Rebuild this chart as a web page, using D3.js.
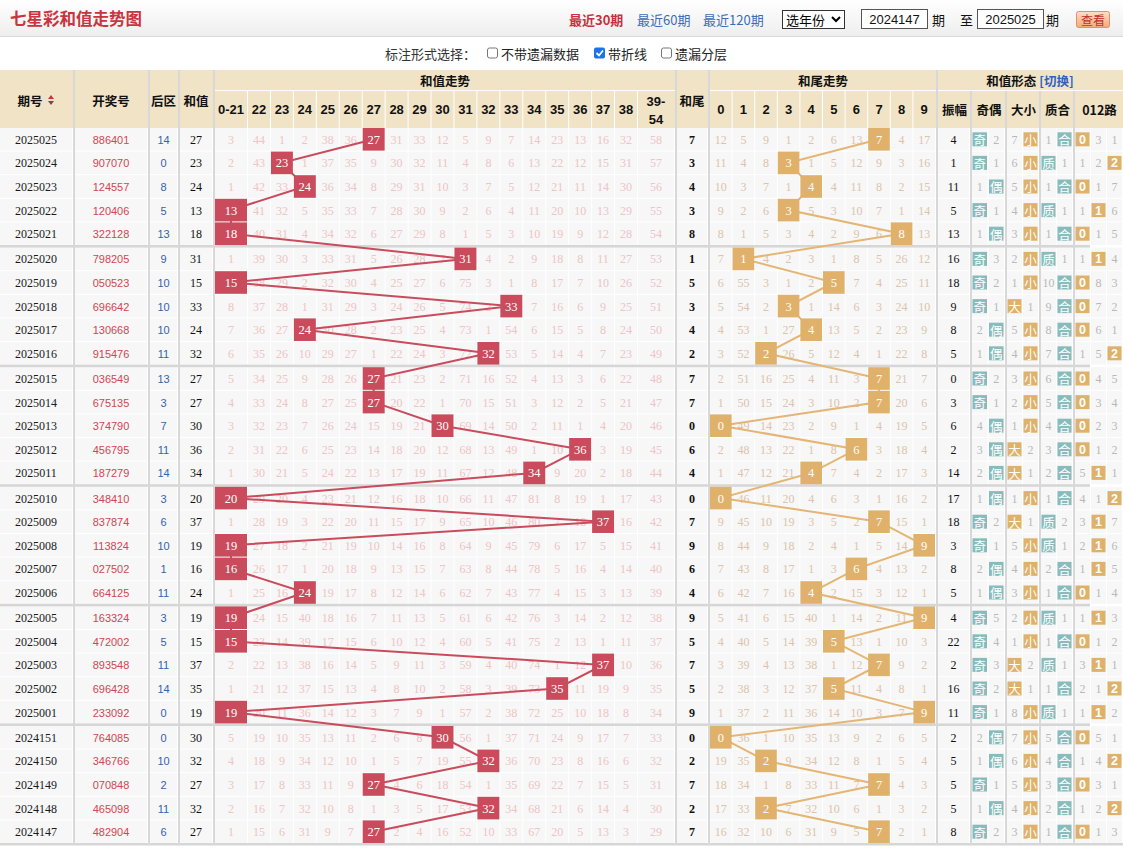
<!DOCTYPE html>
<html lang="zh">
<head>
<meta charset="utf-8">
<title>七星彩和值走势图</title>
<script src="https://cdnjs.cloudflare.com/ajax/libs/d3/7.8.5/d3.min.js"></script>
<style>
  body { margin: 0; background: #fff; overflow: hidden; }
</style>
</head>
<body>
<script>
// ---- data, newest draw first ----
var issues = ["2025025","2025024","2025023","2025022","2025021","2025020","2025019","2025018","2025017","2025016",
              "2025015","2025014","2025013","2025012","2025011","2025010","2025009","2025008","2025007","2025006",
              "2025005","2025004","2025003","2025002","2025001","2024151","2024150","2024149","2024148","2024147"];
var draws = ["886401","907070","124557","120406","322128","798205","050523","696642","130668","915476",
             "036549","675135","374790","456795","187279","348410","837874","113824","027502","664125",
             "163324","472002","893548","696428","233092","764085","346766","070848","465098","482904"];
var backs = [14,0,8,5,13,9,10,10,10,11,13,3,7,11,14,3,6,10,1,11,3,5,11,14,0,0,10,2,11,6];
var sums  = [27,23,24,13,18,31,15,33,24,32,27,27,30,36,34,20,37,19,16,24,19,15,37,35,19,30,32,27,32,27];
var tails = [7,3,4,3,8,1,5,3,4,2,7,7,0,6,4,0,7,9,6,4,9,5,7,5,9,0,2,7,2,7];
var amps  = [4,1,11,5,13,16,18,9,8,5,0,3,6,2,14,17,18,3,8,5,4,22,2,16,11,2,5,5,5,8];

var sumCols  = ["0-21","22","23","24","25","26","27","28","29","30","31","32","33","34","35","36","37","38","39-54"];
var tailCols = ["0","1","2","3","4","5","6","7","8","9"];

// omission counts, 0 marks the hit cell
var sumMiss = [
  [3,44,1,2,38,36,0,31,33,12,5,9,7,14,23,13,16,32,58],
  [2,43,0,1,37,35,9,30,32,11,4,8,6,13,22,12,15,31,57],
  [1,42,33,0,36,34,8,29,31,10,3,7,5,12,21,11,14,30,56],
  [0,41,32,5,35,33,7,28,30,9,2,6,4,11,20,10,13,29,55],
  [0,40,31,4,34,32,6,27,29,8,1,5,3,10,19,9,12,28,54],
  [1,39,30,3,33,31,5,26,28,7,0,4,2,9,18,8,11,27,53],
  [0,38,29,2,32,30,4,25,27,6,75,3,1,8,17,7,10,26,52],
  [8,37,28,1,31,29,3,24,26,5,74,2,0,7,16,6,9,25,51],
  [7,36,27,0,30,28,2,23,25,4,73,1,54,6,15,5,8,24,50],
  [6,35,26,10,29,27,1,22,24,3,72,0,53,5,14,4,7,23,49],
  [5,34,25,9,28,26,0,21,23,2,71,16,52,4,13,3,6,22,48],
  [4,33,24,8,27,25,0,20,22,1,70,15,51,3,12,2,5,21,47],
  [3,32,23,7,26,24,15,19,21,0,69,14,50,2,11,1,4,20,46],
  [2,31,22,6,25,23,14,18,20,12,68,13,49,1,10,0,3,19,45],
  [1,30,21,5,24,22,13,17,19,11,67,12,48,0,9,20,2,18,44],
  [0,29,20,4,23,21,12,16,18,10,66,11,47,81,8,19,1,17,43],
  [1,28,19,3,22,20,11,15,17,9,65,10,46,80,7,18,0,16,42],
  [0,27,18,2,21,19,10,14,16,8,64,9,45,79,6,17,5,15,41],
  [0,26,17,1,20,18,9,13,15,7,63,8,44,78,5,16,4,14,40],
  [1,25,16,0,19,17,8,12,14,6,62,7,43,77,4,15,3,13,39],
  [0,24,15,40,18,16,7,11,13,5,61,6,42,76,3,14,2,12,38],
  [0,23,14,39,17,15,6,10,12,4,60,5,41,75,2,13,1,11,37],
  [2,22,13,38,16,14,5,9,11,3,59,4,40,74,1,12,0,10,36],
  [1,21,12,37,15,13,4,8,10,2,58,3,39,73,0,11,19,9,35],
  [0,20,11,36,14,12,3,7,9,1,57,2,38,72,25,10,18,8,34],
  [5,19,10,35,13,11,2,6,8,0,56,1,37,71,24,9,17,7,33],
  [4,18,9,34,12,10,1,5,7,19,55,0,36,70,23,8,16,6,32],
  [3,17,8,33,11,9,0,4,6,18,54,1,35,69,22,7,15,5,31],
  [2,16,7,32,10,8,1,3,5,17,53,0,34,68,21,6,14,4,30],
  [1,15,6,31,9,7,0,2,4,16,52,10,33,67,20,5,13,3,29]
];
var tailMiss = [
  [12,5,9,1,2,6,13,0,4,17],[11,4,8,0,1,5,12,9,3,16],[10,3,7,1,0,4,11,8,2,15],[9,2,6,0,5,3,10,7,1,14],[8,1,5,3,4,2,9,6,0,13],
  [7,0,4,2,3,1,8,5,26,12],[6,55,3,1,2,0,7,4,25,11],[5,54,2,0,1,14,6,3,24,10],[4,53,1,27,0,13,5,2,23,9],[3,52,0,26,5,12,4,1,22,8],
  [2,51,16,25,4,11,3,0,21,7],[1,50,15,24,3,10,2,0,20,6],[0,49,14,23,2,9,1,4,19,5],[2,48,13,22,1,8,0,3,18,4],[1,47,12,21,0,7,4,2,17,3],
  [0,46,11,20,4,6,3,1,16,2],[9,45,10,19,3,5,2,0,15,1],[8,44,9,18,2,4,1,5,14,0],[7,43,8,17,1,3,0,4,13,2],[6,42,7,16,0,2,15,3,12,1],
  [5,41,6,15,40,1,14,2,11,0],[4,40,5,14,39,0,13,1,10,3],[3,39,4,13,38,1,12,0,9,2],[2,38,3,12,37,0,11,4,8,1],[1,37,2,11,36,14,10,3,7,0],
  [0,36,1,10,35,13,9,2,6,5],[19,35,0,9,34,12,8,1,5,4],[18,34,1,8,33,11,7,0,4,3],[17,33,0,7,32,10,6,1,3,2],[16,32,10,6,31,9,5,0,2,1]
];
// 奇 / 偶
var oeMiss = [[0,2],[0,1],[1,0],[0,1],[1,0],[0,3],[0,2],[0,1],[2,0],[1,0],[0,2],[0,1],[4,0],[3,0],[2,0],
              [1,0],[0,2],[0,1],[2,0],[1,0],[0,5],[0,4],[0,3],[0,2],[0,1],[2,0],[1,0],[0,1],[1,0],[0,2]];
// 大 / 小
var bsMiss = [[7,0],[6,0],[5,0],[4,0],[3,0],[2,0],[1,0],[0,1],[5,0],[4,0],[3,0],[2,0],[1,0],[0,2],[0,1],
              [1,0],[0,1],[5,0],[4,0],[3,0],[2,0],[1,0],[0,2],[0,1],[8,0],[7,0],[6,0],[5,0],[4,0],[3,0]];
// 质 / 合
var pcMiss = [[1,0],[0,1],[1,0],[0,1],[1,0],[0,1],[10,0],[9,0],[8,0],[7,0],[6,0],[5,0],[4,0],[3,0],[2,0],
              [1,0],[0,2],[0,1],[2,0],[1,0],[0,1],[1,0],[0,1],[1,0],[0,1],[5,0],[4,0],[3,0],[2,0],[1,0]];
// 0 / 1 / 2 路
var modMiss = [[0,3,1],[1,2,0],[0,1,7],[1,0,6],[0,1,5],[1,0,4],[0,8,3],[0,7,2],[0,6,1],[1,5,0],
               [0,4,5],[0,3,4],[0,2,3],[0,1,2],[5,0,1],[4,1,0],[3,0,7],[2,0,6],[1,0,5],[0,1,4],
               [1,0,3],[0,1,2],[3,0,1],[2,1,0],[1,0,2],[0,5,1],[1,4,0],[0,3,1],[1,2,0],[0,1,3]];

var W = 1123, H = 848;
var CJK = '"Noto Sans CJK SC", "Noto Sans", sans-serif';
var SERIF = '"Liberation Serif", "DejaVu Serif", serif';
var SANS = '"Liberation Sans", Arial, sans-serif';

var svg = d3.select("body").append("svg")
    .attr("width", W).attr("height", H)
    .style("display", "block");

// ---------- top bar ----------
var defs = svg.append("defs");
var gTop = defs.append("linearGradient").attr("id", "topbar").attr("x1", 0).attr("y1", 0).attr("x2", 0).attr("y2", 1);
gTop.append("stop").attr("offset", "0").attr("stop-color", "#ffffff");
gTop.append("stop").attr("offset", "1").attr("stop-color", "#eeeeee");
var gBtn = defs.append("linearGradient").attr("id", "btn").attr("x1", 0).attr("y1", 0).attr("x2", 0).attr("y2", 1);
gBtn.append("stop").attr("offset", "0").attr("stop-color", "#fde0c8");
gBtn.append("stop").attr("offset", "1").attr("stop-color", "#f4a878");

svg.append("rect").attr("width", W).attr("height", 36).attr("fill", "url(#topbar)");
svg.append("rect").attr("y", 36).attr("width", W).attr("height", 1).attr("fill", "#d9d9d9");

svg.append("text").attr("x", 10).attr("y", 25)
    .attr("font-family", CJK).attr("font-size", 16.5).attr("font-weight", "bold")
    .attr("fill", "#c8353f").text("七星彩和值走势图");

function label(x, y, t, o) {
    o = o || {};
    return svg.append("text").attr("x", x).attr("y", y)
        .attr("font-family", o.font || CJK).attr("font-size", o.size || 13)
        .attr("font-weight", o.weight || "normal")
        .attr("fill", o.fill || "#222")
        .attr("text-anchor", o.anchor || "start")
        .attr("dominant-baseline", "central")
        .text(t);
}

label(569, 19, "最近30期", {fill: "#c8303c", weight: "bold"});
label(637, 19, "最近60期", {fill: "#3a6db5"});
label(703, 19, "最近120期", {fill: "#3a6db5"});

svg.append("rect").attr("x", 782.5).attr("y", 10.5).attr("width", 62).attr("height", 18)
    .attr("fill", "#fff").attr("stroke", "#333");
label(786, 19.5, "选年份", {size: 13, fill: "#000"});
svg.append("path").attr("d", "M832,17 l4,4 l4,-4").attr("fill", "none").attr("stroke", "#000").attr("stroke-width", 2);

svg.append("rect").attr("x", 861.5).attr("y", 9.5).attr("width", 66).attr("height", 19)
    .attr("fill", "#fff").attr("stroke", "#555");
label(894.5, 19.5, "2024147", {font: SANS, size: 13, fill: "#111", anchor: "middle"});
label(932, 19, "期", {fill: "#111"});
label(960, 19, "至", {fill: "#111"});
svg.append("rect").attr("x", 977.5).attr("y", 9.5).attr("width", 66).attr("height", 19)
    .attr("fill", "#fff").attr("stroke", "#555");
label(1010.5, 19.5, "2025025", {font: SANS, size: 13, fill: "#111", anchor: "middle"});
label(1046, 19, "期", {fill: "#111"});
svg.append("rect").attr("x", 1076.5).attr("y", 11.5).attr("width", 33).attr("height", 16).attr("rx", 2)
    .attr("fill", "url(#btn)").attr("stroke", "#e39068");
label(1093, 19.5, "查看", {size: 12, fill: "#c0302c", anchor: "middle"});

// ---------- options row ----------
label(385, 53, "标注形式选择：", {fill: "#333"});
function checkbox(x, checked) {
    if (checked) {
        svg.append("rect").attr("x", x).attr("y", 47.5).attr("width", 11).attr("height", 11).attr("rx", 2).attr("fill", "#1a73e8");
        svg.append("path").attr("d", "M" + (x + 2.5) + ",53 l2.5,2.5 l4,-5").attr("fill", "none")
            .attr("stroke", "#fff").attr("stroke-width", 1.8);
    } else {
        svg.append("rect").attr("x", x + 0.5).attr("y", 48).attr("width", 10).attr("height", 10).attr("rx", 2)
            .attr("fill", "#fff").attr("stroke", "#767676");
    }
}
checkbox(487, false); label(501, 53, "不带遗漏数据", {fill: "#222"});
checkbox(594, true);  label(608, 53, "带折线", {fill: "#222"});
checkbox(661, false); label(675, 53, "遗漏分层", {fill: "#222"});

// ---------- layout ----------
var rowH = 23.6, gap = 1.6, bodyTop = 128, headTop = 70;
var rowBand = d3.scaleBand().domain(d3.range(issues.length)).range([bodyTop, bodyTop + issues.length * rowH]);
function rowY(i) { return rowBand(i) + Math.floor(i / 5) * gap; }
var cellH = rowH - 1;
var bodyBottom = rowY(issues.length - 1) + rowH;

var colIssue = [0, 73], colDraw = [75, 148], colBack = [150, 178], colSum = [180, 213];
var colTail = [677, 708], colAmp = [938, 970];
var sumInner = d3.scaleBand().domain(d3.range(1, 18)).range([248, 638]);
var sumEdges = [215].concat(d3.range(1, 18).map(function(j){ return sumInner(j); }), [638, 675]);
var tailX = d3.scaleBand().domain(d3.range(10)).range([710, 936]);
var oeX = d3.scaleBand().domain([0, 1]).range([972, 1005]);
var bsX = d3.scaleBand().domain([0, 1]).range([1007, 1039]);
var pcX = d3.scaleBand().domain([0, 1]).range([1041, 1073]);
var modX = d3.scaleBand().domain([0, 1, 2]).range([1075, 1123]);
var dividers = [73, 148, 178, 213, 675, 708, 936];
var formDividers = [970, 1005, 1039, 1073];

function mid(a) { return (a[0] + a[1] - 1) / 2; }
function sumSpan(j) { return [sumEdges[j], sumEdges[j + 1]]; }
function bandSpan(sc, k) { return [sc(k), sc(k) + sc.bandwidth()]; }

// ---------- header ----------
var HEAD = "#f1e4c6";
svg.append("rect").attr("x", 0).attr("y", headTop).attr("width", W).attr("height", bodyTop - headTop).attr("fill", HEAD);
[[215, 675], [710, 936], [938, 1123]].forEach(function(r){
    svg.append("rect").attr("x", r[0]).attr("y", 90).attr("width", r[1] - r[0]).attr("height", 1).attr("fill", "#fff");
});
sumEdges.slice(1, -1).concat(d3.range(1, 10).map(function(k){ return tailX(k); })).forEach(function(x){
    svg.append("rect").attr("x", x - 1).attr("y", 91).attr("width", 1).attr("height", bodyTop - 91).attr("fill", "#fff");
});

var HB = {weight: "bold", size: 12.5, fill: "#111"};
label(mid(colIssue) - 6, 100, "期号", {weight: "bold", size: 12.5, fill: "#111", anchor: "middle"});
svg.append("path").attr("d", "M48,99 L51,95 L54,99 Z").attr("fill", "#c0392b");
svg.append("path").attr("d", "M48,101 L54,101 L51,105 Z").attr("fill", "#555");
label(mid(colDraw), 100, "开奖号", Object.assign({anchor: "middle"}, HB));
label(mid(colBack), 100, "后区", Object.assign({anchor: "middle"}, HB));
label(mid(colSum), 100, "和值", Object.assign({anchor: "middle"}, HB));
label(mid(colTail), 100, "和尾", Object.assign({anchor: "middle"}, HB));
label(445, 80, "和值走势", Object.assign({anchor: "middle"}, HB));
label(823, 80, "和尾走势", Object.assign({anchor: "middle"}, HB));
var formTitle = label(1030, 80, "和值形态 ", Object.assign({anchor: "middle"}, HB));
formTitle.append("tspan").attr("fill", "#2f5fc4").text("[切换]");

sumCols.forEach(function(c, j){
    var x = mid(sumSpan(j));
    if (c === "39-54") {
        label(x, 101, "39-", {font: SANS, weight: "bold", size: 13, fill: "#111", anchor: "middle"});
        label(x, 119, "54", {font: SANS, weight: "bold", size: 13, fill: "#111", anchor: "middle"});
    } else {
        label(x, 109, c, {font: SANS, weight: "bold", size: 13, fill: "#111", anchor: "middle"});
    }
});
tailCols.forEach(function(c, k){
    label(mid(bandSpan(tailX, k)), 109, c, {font: SANS, weight: "bold", size: 13, fill: "#111", anchor: "middle"});
});
[["振幅", colAmp], ["奇偶", [972, 1005]], ["大小", [1007, 1039]], ["质合", [1041, 1073]], ["012路", [1075, 1123]]]
    .forEach(function(p){ label(mid(p[1]) + 1, 109, p[0], Object.assign({anchor: "middle"}, HB)); });

// ---------- body ----------
svg.append("rect").attr("x", 0).attr("y", bodyTop).attr("width", W).attr("height", bodyBottom - bodyTop + 3).attr("fill", "#fff");

var spans = [colIssue, colDraw, colBack, colSum, colTail, colAmp];
sumCols.forEach(function(c, j){ spans.push(sumSpan(j)); });
tailCols.forEach(function(c, k){ spans.push(bandSpan(tailX, k)); });
[oeX, bsX, pcX, modX].forEach(function(sc){ sc.domain().forEach(function(k){ spans.push(bandSpan(sc, k)); }); });

var rows = svg.append("g").selectAll("g").data(issues).join("g")
    .attr("transform", function(d, i){ return "translate(0," + rowY(i) + ")"; });

rows.selectAll("rect").data(spans).join("rect")
    .attr("x", function(s){ return s[0]; })
    .attr("width", function(s){ return s[1] - s[0] - 1; })
    .attr("height", cellH)
    .attr("fill", "#f7f7f7");

function cellText(sel, x, t, o) {
    sel.append("text").attr("x", x).attr("y", cellH / 2 + 0.5)
        .attr("text-anchor", "middle").attr("dominant-baseline", "central")
        .attr("font-family", o.font || SERIF).attr("font-size", o.size || 12)
        .attr("font-weight", o.weight || "normal")
        .attr("fill", o.fill).text(t);
}

rows.each(function(d, i){
    var r = d3.select(this);
    cellText(r, mid(colIssue), issues[i], {fill: "#1a1a1a", size: 12});
    cellText(r, mid(colDraw), draws[i], {font: SANS, size: 11, fill: "#d24652"});
    cellText(r, mid(colBack), backs[i], {font: SANS, size: 11, fill: "#3563ad"});
    cellText(r, mid(colSum), sums[i], {fill: "#111", size: 12});
    cellText(r, mid(colTail), tails[i], {fill: "#111", size: 12, weight: "bold"});
    cellText(r, mid(colAmp), amps[i], {fill: "#111", size: 12});
    sumMiss[i].forEach(function(v, j){
        if (v !== 0) cellText(r, mid(sumSpan(j)), v, {fill: "#eec4c4", size: 12});
    });
    tailMiss[i].forEach(function(v, k){
        if (v !== 0) cellText(r, mid(bandSpan(tailX, k)), v, {fill: "#dcc3aa", size: 12});
    });
    [[oeMiss, oeX], [bsMiss, bsX], [pcMiss, pcX], [modMiss, modX]].forEach(function(p){
        p[0][i].forEach(function(v, k){
            if (v !== 0) cellText(r, mid(bandSpan(p[1], k)), v, {fill: "#b8b8b8", size: 12});
        });
    });
});

// group separators and column dividers
d3.range(5, issues.length, 5).forEach(function(i){
    var y0 = rowY(i - 1) + rowH - 1;
    svg.append("rect").attr("x", 0).attr("y", y0).attr("width", 1090).attr("height", rowY(i) - y0).attr("fill", "#d6d6d6");
});
svg.append("rect").attr("x", 0).attr("y", bodyBottom - 1).attr("width", W).attr("height", 2.5).attr("fill", "#d6d6d6");
dividers.forEach(function(x){
    svg.append("rect").attr("x", x).attr("y", headTop).attr("width", 2).attr("height", bodyBottom - headTop + 1).attr("fill", "#d8d8d8");
});
formDividers.forEach(function(x){
    svg.append("rect").attr("x", x).attr("y", 91).attr("width", 2).attr("height", bodyBottom - 91 + 1).attr("fill", "#d8d8d8");
});

// ---------- trend lines ----------
var sumPts = sumMiss.map(function(m, i){ return [mid(sumSpan(m.indexOf(0))), rowY(i) + cellH / 2]; });
var tailPts = tailMiss.map(function(m, i){ return [mid(bandSpan(tailX, m.indexOf(0))), rowY(i) + cellH / 2]; });
var line = d3.line();
svg.append("path").attr("d", line(sumPts)).attr("fill", "none").attr("stroke", "#c94b5c").attr("stroke-width", 2);
svg.append("path").attr("d", line(tailPts)).attr("fill", "none").attr("stroke", "#e4b573").attr("stroke-width", 2);

// ---------- hit boxes ----------
var hits = svg.append("g");
sumMiss.forEach(function(m, i){
    var s = sumSpan(m.indexOf(0));
    var g = hits.append("g").attr("transform", "translate(0," + rowY(i) + ")");
    g.append("rect").attr("x", s[0]).attr("width", s[1] - s[0] - 1).attr("height", cellH).attr("fill", "#c94b5c");
    cellText(g, mid(s), sums[i], {fill: "#fff", size: 12.5});
});
tailMiss.forEach(function(m, i){
    var k = m.indexOf(0), s = bandSpan(tailX, k);
    var g = hits.append("g").attr("transform", "translate(0," + rowY(i) + ")");
    g.append("rect").attr("x", s[0]).attr("width", s[1] - s[0] - 1).attr("height", cellH).attr("fill", "#e0b16a");
    cellText(g, mid(s), tailCols[k], {fill: "#fff", size: 12.5});
});

var TEAL = "#88bcbc", ORANGE = "#e0b16a";
[[oeMiss, oeX, ["奇", "偶"], TEAL], [bsMiss, bsX, ["大", "小"], ORANGE],
 [pcMiss, pcX, ["质", "合"], TEAL], [modMiss, modX, ["0", "1", "2"], ORANGE]].forEach(function(p){
    p[0].forEach(function(m, i){
        var k = m.indexOf(0), s = bandSpan(p[1], k);
        var g = hits.append("g").attr("transform", "translate(0," + rowY(i) + ")");
        g.append("rect").attr("x", s[0] + 0.5).attr("y", cellH / 2 - 7).attr("width", s[1] - s[0] - 2).attr("height", 14).attr("fill", p[3]);
        cellText(g, mid(s), p[2][k], {font: /\d/.test(p[2][k]) ? SANS : CJK, size: 12.5,
            weight: /\d/.test(p[2][k]) ? "bold" : "normal", fill: "#fff"});
    });
});
</script>
</body>
</html>
